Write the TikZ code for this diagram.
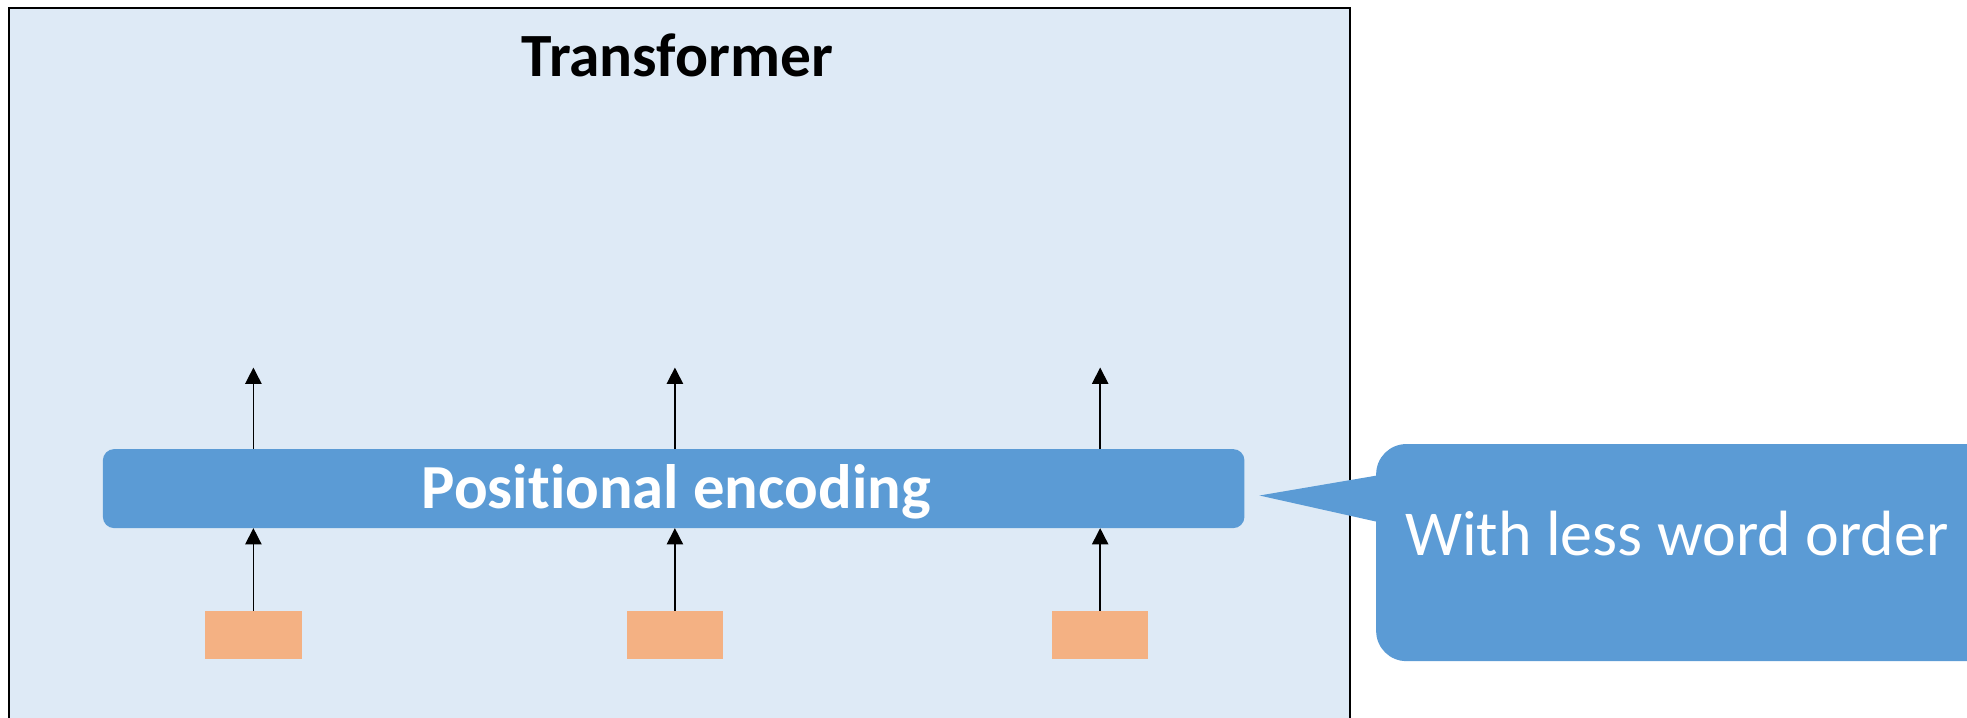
\documentclass[tikz,border=0pt]{standalone}
\usepackage{fontspec}
\setmainfont[Ligatures=NoCommon]{Carlito}
\usetikzlibrary{arrows.meta}
\definecolor{panelfill}{HTML}{DEEAF6}
\definecolor{blockblue}{HTML}{5B9BD5}
\definecolor{tokenfill}{HTML}{F4B183}
\tikzset{
  panel/.style={draw=black, line width=1.6pt, fill=panelfill},
  pebar/.style={fill=blockblue, rounded corners=9pt, inner sep=0pt},
  token/.style={fill=tokenfill, minimum width=77pt, minimum height=38pt, inner sep=0pt, anchor=north},
  flow/.style={line width=1.2pt, -{Triangle[width=13pt,length=13pt]}},
  bubble/.style={fill=blockblue}
}
\begin{document}
\begin{tikzpicture}[x=1pt,y=-1pt]
\useasboundingbox (0,0) rectangle (1568,572);
% outer Transformer panel (runs off the bottom edge)
\path[panel] (7,6) rectangle (1076,600);
\node[anchor=base, font=\fontsize{49}{53}\selectfont\bfseries] (title) at (540,61) {Transformer};
% positional encoding block
\path[pebar] (82,358) rectangle (992,421);
\node[anchor=base, text=white, font=\fontsize{50}{54}\selectfont\bfseries] (pe) at (539,405) {Positional encoding};
\coordinate (peS1) at (202,421); \coordinate (peS2) at (538,421); \coordinate (peS3) at (877,421);
\coordinate (peN1) at (202,358); \coordinate (peN2) at (538,358); \coordinate (peN3) at (877,358);
% input tokens
\node[token] (t1) at (202,487) {};
\node[token] (t2) at (538,487) {};
\node[token] (t3) at (877,487) {};
% outputs
\coordinate (o1) at (202,293); \coordinate (o2) at (538,293); \coordinate (o3) at (877,293);
\foreach \i in {1,2,3} {
  \draw[flow] (t\i.north) -- (peS\i);
  \draw[flow] (peN\i) -- (o\i);
}
% callout bubble
\fill[bubble, rounded corners=24pt] (1097,354) rectangle (1600,527);
\coordinate (tip) at (1004,395);
\fill[bubble] (1098,379) -- (tip) -- (1098,416) -- cycle;
\node[anchor=base west, text=white, inner sep=0pt, font=\fontsize{51}{55}\selectfont] (note) at (1120,443) {With less word order};
\end{tikzpicture}
\end{document}
